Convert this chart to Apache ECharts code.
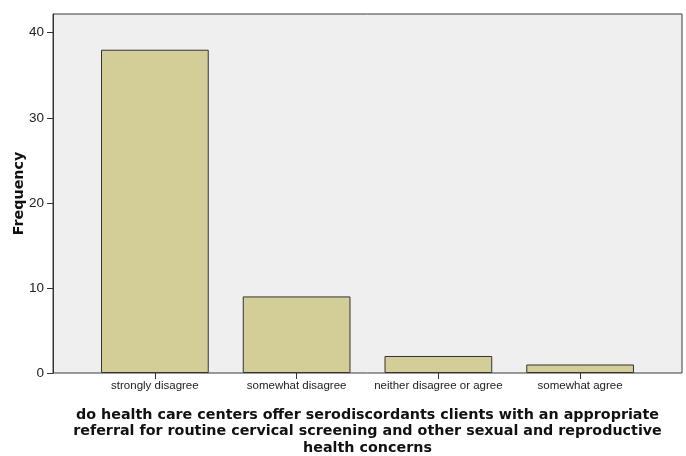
<!DOCTYPE html>
<html>
<head>
<meta charset="utf-8">
<script src="https://cdn.jsdelivr.net/npm/echarts@6/dist/echarts.min.js"></script>
<style>
  html, body { margin: 0; padding: 0; background: #fff; }
  #main { width: 686px; height: 456px; }
</style>
</head>
<body>
<div id="main"></div>
<script>
// values
var categories = ['strongly disagree', 'somewhat disagree', 'neither disagree or agree', 'somewhat agree'];
var frequency = [38, 9, 2, 1];
var yTicks = [0, 10, 20, 30, 40];
var xTitle = 'do health care centers offer serodiscordants clients with an appropriate\nreferral for routine cervical screening and other sexual and reproductive\nhealth concerns';

var yMax = 42.2;

var chart = echarts.init(document.getElementById('main'));
var option = {
  backgroundColor: '#fff',
  animation: false,
  grid: [
    // frame + y axis
    { left: 53, right: 4, top: 14, bottom: 83, show: true, outerBoundsMode: 'none',
      backgroundColor: '#efefef', borderColor: '#3a3a3a', borderWidth: 1 },
    // bars sit a bit inside the frame
    { left: 84, right: 35, top: 14, bottom: 83, outerBoundsMode: 'none' }
  ],
  xAxis: [
    { gridIndex: 0, type: 'value', show: false, min: 0, max: 1 },
    {
      gridIndex: 1, type: 'category', data: categories,
      axisLine: { show: false },
      axisTick: { show: true, alignWithLabel: true, length: 6, lineStyle: { color: '#333' } },
      axisLabel: { color: '#222', fontFamily: 'Liberation Sans', fontSize: 11.5, margin: 7, interval: 0 },
      name: xTitle,
      nameLocation: 'middle',
      nameGap: 34,
      nameTextStyle: { color: '#111', fontFamily: 'DejaVu Sans', fontWeight: 'bold', fontSize: 14.3, lineHeight: 16.5, align: 'center' }
    }
  ],
  yAxis: [
    {
      gridIndex: 0, type: 'value', min: 0, max: yMax,
      axisLine: { show: true, lineStyle: { color: '#333' } },
      axisTick: { show: true, length: 6, customValues: yTicks, lineStyle: { color: '#333' } },
      splitLine: { show: false },
      axisLabel: { color: '#222', fontFamily: 'Liberation Sans', fontSize: 13.5, margin: 9, customValues: yTicks },
      name: 'Frequency',
      nameLocation: 'middle',
      nameGap: 27,
      nameMoveOverlap: false,
      nameTextStyle: { color: '#111', fontFamily: 'DejaVu Sans', fontWeight: 'bold', fontSize: 14.3 }
    },
    { gridIndex: 1, type: 'value', min: 0, max: yMax, show: false }
  ],
  series: [
    {
      type: 'bar',
      xAxisIndex: 1, yAxisIndex: 1,
      data: frequency,
      barWidth: '76%',
      itemStyle: { color: '#d3ce97', borderColor: '#333', borderWidth: 1 }
    }
  ]
};
chart.setOption(option);
</script>
</body>
</html>
